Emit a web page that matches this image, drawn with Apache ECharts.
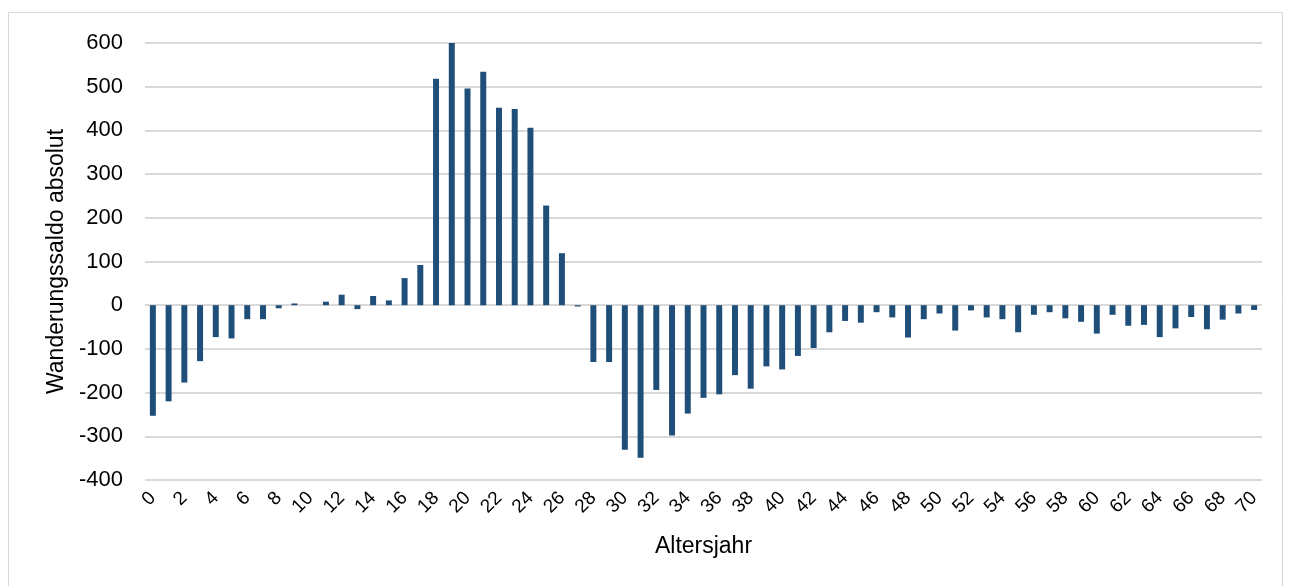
<!DOCTYPE html>
<html>
<head>
<meta charset="utf-8">
<script src="https://cdn.jsdelivr.net/npm/echarts@6/dist/echarts.min.js"></script>
<style>
  html, body { margin: 0; padding: 0; background: #fff; }
  #chart { width: 1291px; height: 586px; }
</style>
</head>
<body>
<div id="chart"></div>
<script>
// Altersjahre 0..70
var ages = [];
for (var a = 0; a <= 70; a++) { ages.push(String(a)); }

// Wanderungssaldo absolut
var saldo = [
  -253, -220, -177, -128, -73, -76, -32, -32, -7, 4,
  0, 8, 24, -9, 21, 11, 62, 92, 518, 602,
  496, 534, 452, 449, 406, 228, 119, -3, -130, -130,
  -331, -349, -194, -298, -248, -212, -204, -160, -191, -140,
  -147, -116, -98, -62, -36, -40, -16, -28, -74, -32,
  -19, -58, -12, -28, -32, -62, -22, -16, -30, -38,
  -65, -22, -47, -45, -73, -53, -27, -55, -33, -19,
  -11
];

var yTicks = { min: -400, max: 600, step: 100 };

var chart = echarts.init(document.getElementById('chart'));

chart.setOption({
    animation: false,
    textStyle: { fontFamily: 'Liberation Sans, Arial, sans-serif' },
    graphic: [
        {
            type: 'rect',
            shape: { x: 8.5, y: 12.5, width: 1274, height: 600 },
            style: { fill: 'none', stroke: '#d9d9d9', lineWidth: 1 },
            silent: true
        }
    ],
    grid: {
        left: 145,
        right: 29,
        top: 43,
        bottom: 106
    },
    xAxis: {
        type: 'category',
        data: ages,
        name: 'Altersjahr',
        nameLocation: 'middle',
        nameGap: 55,
        nameTextStyle: { fontSize: 23, color: '#000' },
        axisLine: { show: false, onZero: false },
        axisTick: { show: false },
        axisLabel: {
            interval: 1,
            rotate: 45,
            fontSize: 19,
            color: '#000',
            margin: 15
        }
    },
    yAxis: {
        type: 'value',
        min: yTicks.min,
        max: yTicks.max,
        interval: yTicks.step,
        name: 'Wanderungssaldo absolut',
        nameLocation: 'middle',
        nameGap: 77,
        nameTextStyle: { fontSize: 23, color: '#000' },
        axisLine: { show: false },
        axisTick: { show: false },
        axisLabel: { fontSize: 22, color: '#000', margin: 22 },
        splitLine: { lineStyle: { color: '#d9d9d9', width: 2 } }
    },
    series: [
        {
            name: 'Wanderungssaldo',
            type: 'bar',
            data: saldo,
            barWidth: '38%',
            itemStyle: { color: '#1f4e79' }
        }
    ]
});
</script>
</body>
</html>
